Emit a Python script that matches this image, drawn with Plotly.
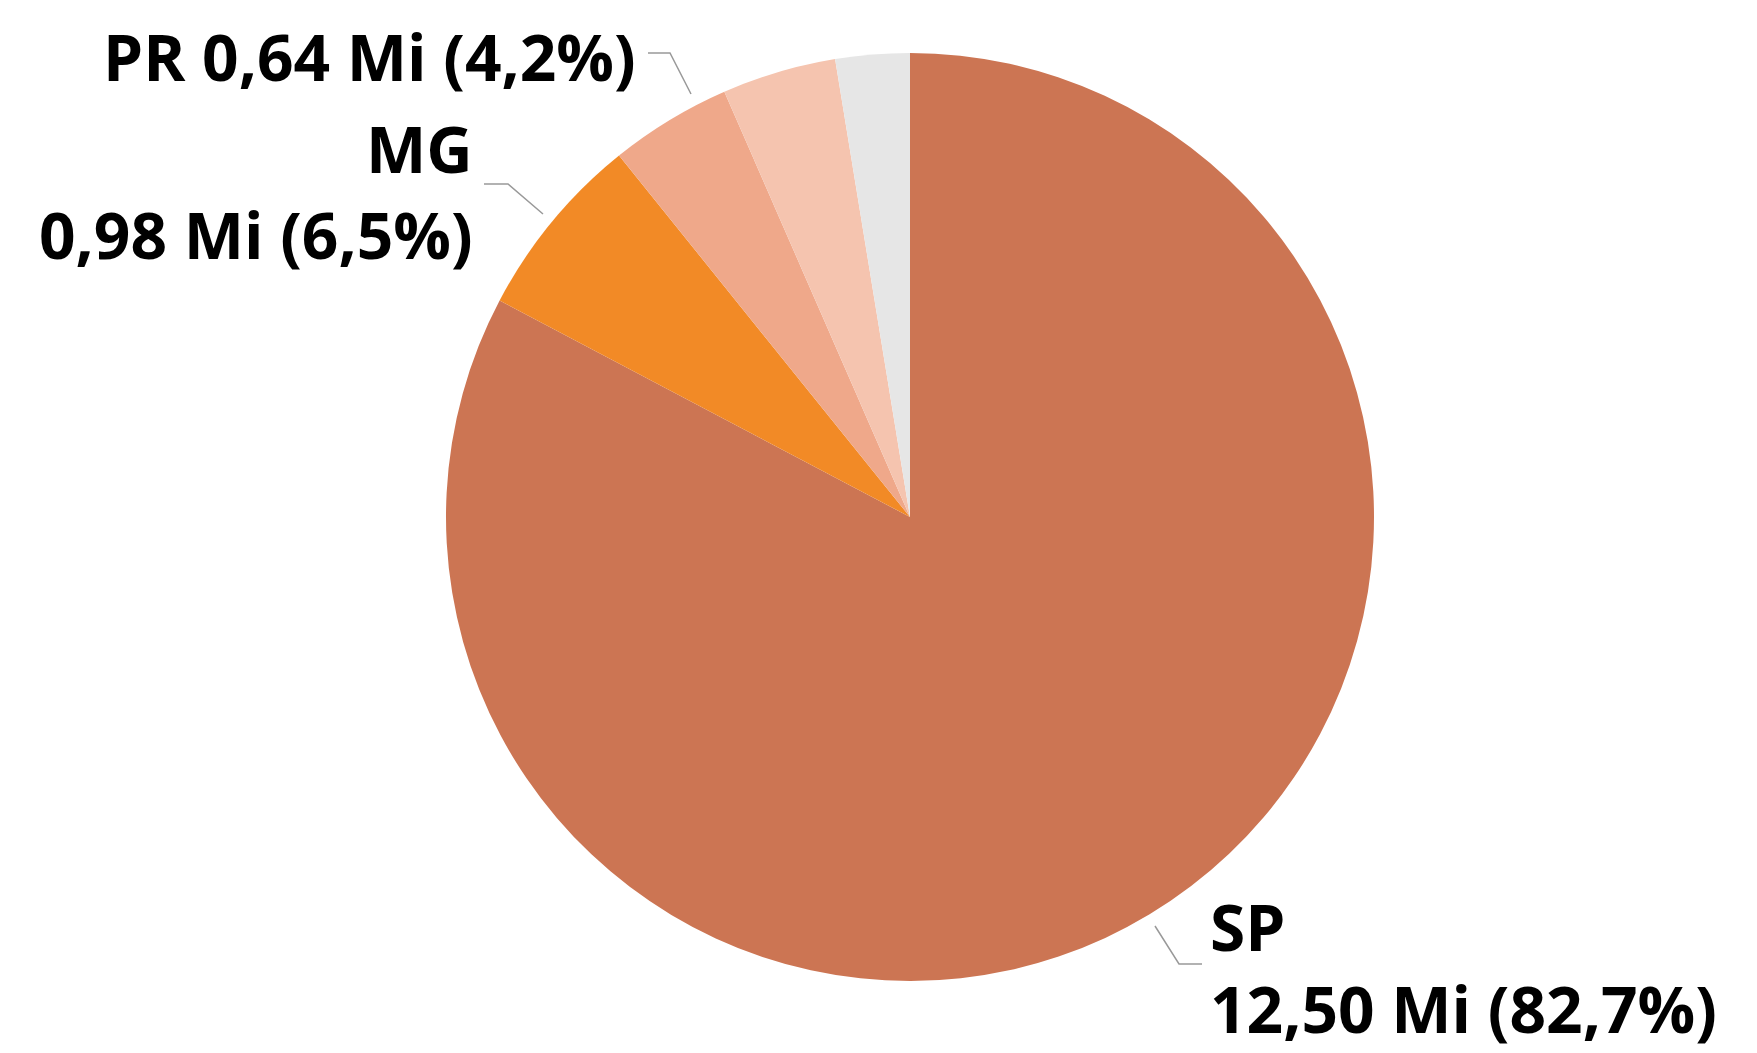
import plotly.graph_objects as go

# Population by state (millions) — slices drawn clockwise from 12 o'clock
states = ["SP", "MG", "PR", "Outros A", "Outros B"]
values = [12.50, 0.98, 0.64, 0.60, 0.39]
colors = ["#CC7553", "#F28A26", "#EFA88A", "#F5C4AF", "#E6E6E6"]

W, H = 1757, 1053
cx, cy, r = 910, 517, 464  # pie centre and radius in pixels

total = sum(values)


def fmt(v):
    return f"{v:.2f}".replace(".", ",")


def pct(v):
    return f"{100 * v / total:.1f}".replace(".", ",")


fig = go.Figure(
    go.Pie(
        labels=states,
        values=values,
        sort=False,
        direction="clockwise",
        rotation=0,
        marker=dict(colors=colors, line=dict(width=0)),
        textinfo="none",
        hoverinfo="label+value+percent",
        showlegend=False,
        domain=dict(x=[(cx - r) / W, (cx + r) / W], y=[1 - (cy + r) / H, 1 - (cy - r) / H]),
    )
)

FONT = dict(family="Open Sans", size=64, color="#000000")


def px(x, y):
    return x / W, 1 - y / H


annotations = []
shapes = []


def label(text, x, y, anchor):
    X, Y = px(x, y)
    annotations.append(dict(text=f"<b>{text}</b>", x=X, y=Y, xref="paper", yref="paper",
                            xanchor=anchor, yanchor="middle", showarrow=False,
                            borderpad=0, font=FONT))


def leader(points):
    path = "M " + " L ".join(f"{px(a, b)[0]},{px(a, b)[1]}" for a, b in points)
    shapes.append(dict(type="path", path=path, xref="paper", yref="paper",
                       line=dict(color="#999999", width=1.5)))


# PR
label(f"{states[2]} {fmt(values[2])} Mi ({pct(values[2])}%)", 637, 57, "right")
leader([(648, 53), (670, 53), (691, 94)])

# MG
label(states[1], 474, 148, "right")
label(f"{fmt(values[1])} Mi ({pct(values[1])}%)", 474, 234, "right")
leader([(484, 184), (508, 184), (543, 214)])

# SP
label(states[0], 1209, 926, "left")
label(f"{fmt(values[0])} Mi ({pct(values[0])}%)", 1209, 1008, "left")
leader([(1155, 926), (1179, 964), (1202, 964)])

fig.update_layout(
    width=W, height=H,
    margin=dict(l=0, r=0, t=0, b=0),
    paper_bgcolor="white", plot_bgcolor="white",
    annotations=annotations, shapes=shapes,
)

fig.write_html("out.html")
